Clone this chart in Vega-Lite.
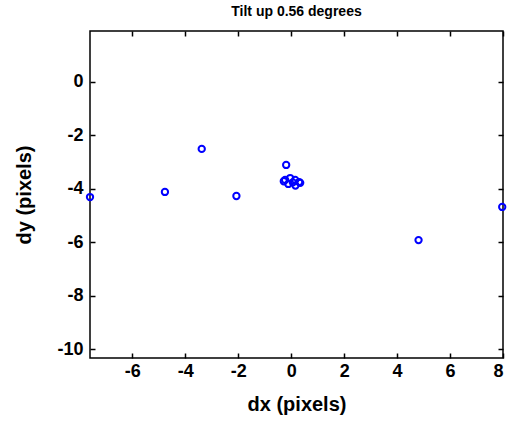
{
  "$schema": "https://vega.github.io/schema/vega-lite/v6.json",
  "width": 413,
  "height": 327,
  "autosize": "none",
  "padding": {"left": 90, "top": 31, "right": 5, "bottom": 65},
  "background": "white",
  "title": {"text": "Tilt up 0.56 degrees", "font": "Liberation Sans", "fontSize": 14, "fontWeight": "bold", "color": "black", "offset": 11, "anchor": "middle"},
  "config": {
    "view": {"stroke": "black", "strokeWidth": 1.5},
    "axis": {"grid": false, "domain": false, "tickColor": "black", "tickWidth": 1.5, "tickSize": -5, "labelFont": "Liberation Sans", "labelFontSize": 18, "labelFontWeight": "bold", "labelColor": "black", "titleFont": "Liberation Sans", "titleFontSize": 20, "titleFontWeight": "bold", "titleColor": "black", "labelExpr": "toString(datum.value)"}
  },
  "data": {"values": [
    {"dx": -7.6, "dy": -4.31},
    {"dx": -4.77, "dy": -4.12},
    {"dx": -3.38, "dy": -2.51},
    {"dx": -2.07, "dy": -4.27},
    {"dx": -0.19, "dy": -3.11},
    {"dx": -0.23, "dy": -3.67},
    {"dx": -0.04, "dy": -3.6},
    {"dx": 0.15, "dy": -3.67},
    {"dx": 0.3, "dy": -3.75},
    {"dx": -0.11, "dy": -3.82},
    {"dx": 0.16, "dy": -3.88},
    {"dx": 0.34, "dy": -3.78},
    {"dx": 0.06, "dy": -3.76},
    {"dx": -0.28, "dy": -3.72},
    {"dx": 4.81, "dy": -5.92},
    {"dx": 7.97, "dy": -4.68}
  ]},
  "layer": [
    {
      "mark": {"type": "point", "shape": "circle", "filled": false, "color": "#0000ff", "opacity": 1, "strokeWidth": 2, "size": 40, "clip": false},
      "encoding": {
        "x": {"field": "dx", "type": "quantitative", "scale": {"domain": [-7.6, 8], "nice": false, "zero": false},
          "axis": {"orient": "bottom", "values": [-6, -4, -2, 0, 2, 4, 6, 8], "title": "dx (pixels)", "labelPadding": 9, "titlePadding": 14}},
        "y": {"field": "dy", "type": "quantitative", "scale": {"domain": [-10.33, 1.9], "nice": false, "zero": false},
          "axis": {"orient": "left", "values": [0, -2, -4, -6, -8, -10], "title": "dy (pixels)", "labelPadding": 12, "titlePadding": 22}}
      }
    },
    {
      "mark": {"type": "point", "opacity": 0},
      "encoding": {
        "x": {"field": "dx", "type": "quantitative", "axis": {"orient": "top", "values": [-6, -4, -2, 0, 2, 4, 6, 8], "labels": false, "title": null}},
        "y": {"field": "dy", "type": "quantitative", "axis": {"orient": "right", "values": [0, -2, -4, -6, -8, -10], "labels": false, "title": null}}
      }
    }
  ],
  "resolve": {"axis": {"x": "independent", "y": "independent"}}
}
